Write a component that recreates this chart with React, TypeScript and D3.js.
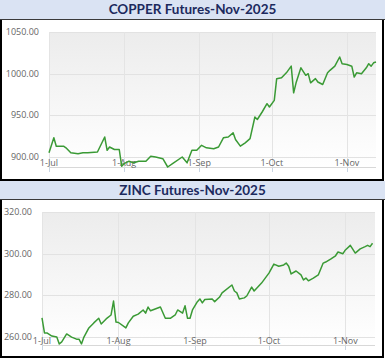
import React from 'react';
import * as d3 from 'd3';

// COPPER Futures-Nov-2025
const copperDates = [
  '2025-07-01', '2025-07-03', '2025-07-04', '2025-07-07', '2025-07-08', '2025-07-10', '2025-07-13',
  '2025-07-15', '2025-07-17', '2025-07-21', '2025-07-22', '2025-07-24', '2025-07-25', '2025-07-26',
  '2025-07-28', '2025-07-30', '2025-07-31', '2025-08-01', '2025-08-03', '2025-08-05', '2025-08-07',
  '2025-08-10', '2025-08-12', '2025-08-14', '2025-08-17', '2025-08-19', '2025-08-21', '2025-08-25',
  '2025-08-27', '2025-08-29', '2025-08-31', '2025-09-02', '2025-09-04', '2025-09-07', '2025-09-09',
  '2025-09-11', '2025-09-13', '2025-09-15', '2025-09-16', '2025-09-18', '2025-09-20', '2025-09-22',
  '2025-09-24', '2025-09-25', '2025-09-27', '2025-09-29', '2025-09-30', '2025-10-02', '2025-10-03',
  '2025-10-05', '2025-10-07', '2025-10-09', '2025-10-10', '2025-10-11', '2025-10-13', '2025-10-15',
  '2025-10-16', '2025-10-17', '2025-10-19', '2025-10-20', '2025-10-22', '2025-10-24', '2025-10-25',
  '2025-10-27', '2025-10-29', '2025-10-30', '2025-11-01', '2025-11-03', '2025-11-04', '2025-11-05',
  '2025-11-07', '2025-11-09', '2025-11-10', '2025-11-11', '2025-11-12', '2025-11-13',
];
const copperValues = [
  905, 923, 913, 913, 911, 905, 904,
  905, 905, 906, 912, 924, 908, 912,
  909, 909, 889, 892, 895, 893, 895,
  895, 901, 900, 898, 888, 892, 900,
  893, 908, 908, 914, 911, 910, 912,
  923, 924, 929, 921, 913, 917, 922,
  948, 945, 954, 964, 960, 968, 994,
  995, 1001, 1009, 977, 989, 1007, 998,
  1000, 989, 994, 990, 987, 1001, 1004,
  1009, 1020, 1012, 1011, 1009, 996, 1001,
  1000, 1007, 1012, 1009, 1013, 1014,
];
const copperTicks = [900, 950, 1000, 1050];

// ZINC Futures-Nov-2025
const zincDates = [
  '2025-07-01', '2025-07-02', '2025-07-03', '2025-07-05', '2025-07-07', '2025-07-08', '2025-07-09',
  '2025-07-11', '2025-07-13', '2025-07-15', '2025-07-16', '2025-07-17', '2025-07-18', '2025-07-20',
  '2025-07-22', '2025-07-24', '2025-07-25', '2025-07-27', '2025-07-29', '2025-07-30', '2025-07-31',
  '2025-08-01', '2025-08-04', '2025-08-05', '2025-08-07', '2025-08-09', '2025-08-11', '2025-08-12',
  '2025-08-13', '2025-08-14', '2025-08-18', '2025-08-20', '2025-08-22', '2025-08-24', '2025-08-25',
  '2025-08-27', '2025-08-28', '2025-08-29', '2025-08-30', '2025-08-31', '2025-09-02', '2025-09-03',
  '2025-09-04', '2025-09-05', '2025-09-08', '2025-09-09', '2025-09-11', '2025-09-12', '2025-09-16',
  '2025-09-17', '2025-09-18', '2025-09-19', '2025-09-21', '2025-09-22', '2025-09-24', '2025-09-25',
  '2025-09-28', '2025-10-01', '2025-10-03', '2025-10-05', '2025-10-07', '2025-10-08', '2025-10-09',
  '2025-10-10', '2025-10-12', '2025-10-14', '2025-10-15', '2025-10-16', '2025-10-17', '2025-10-19',
  '2025-10-21', '2025-10-23', '2025-10-24', '2025-10-26', '2025-10-28', '2025-10-29', '2025-10-31',
  '2025-11-01', '2025-11-03', '2025-11-05', '2025-11-07', '2025-11-09', '2025-11-10', '2025-11-11',
  '2025-11-12',
];
const zincValues = [
  269.2, 262, 262, 260.5, 260, 256.7, 257.7,
  261.5, 260, 259, 259, 256.7, 260, 264.4,
  266.8, 269, 266.3, 268.7, 270.6, 277.3, 267.2,
  267, 264.4, 266.8, 270, 271, 273, 271.5,
  274.4, 272.6, 274.4, 269, 269, 270.6, 273,
  271.5, 275, 269, 269, 273, 277, 278.3,
  276.4, 278, 278.3, 277, 279.2, 281.2, 285,
  282.1, 281.2, 278.3, 278.8, 279.7, 284, 282.1,
  285.9, 290.7, 295, 294, 294.6, 295.5, 294,
  290.3, 291.7, 289.8, 287.4, 288.3, 287, 288.3,
  289.8, 295.5, 296, 297.4, 299, 300.8, 300,
  301.8, 304, 300.3, 302.3, 303.4, 304, 303.4,
  305,
];
const zincTicks = [260, 280, 300, 320];

const monthTicks = ['2025-07-01', '2025-08-01', '2025-09-01', '2025-10-01', '2025-11-01'];
const monthLabels = ['1-Jul', '1-Aug', '1-Sep', '1-Oct', '1-Nov'];

const parse = d3.timeParse('%Y-%m-%d');
const startDate = parse('2025-07-01') as Date;
const endDate = parse('2025-11-13') as Date;

const W = 385;
const lineColor = '#3a9a35';

type PanelProps = {
  id: string;
  title: string;
  dates: string[];
  values: number[];
  ticks: number[];
  yMin: number;
  titleTop: number;
  titleH: number;
  boxBottom: number;
  left: number;
  right: number;
  top: number;
  bottom: number;
};

const Panel = (p: PanelProps) => {
  const x = d3.scaleTime().domain([startDate, endDate]).range([p.left, p.right]);
  const y = d3.scaleLinear().domain([p.yMin, p.ticks[p.ticks.length - 1]]).range([p.bottom, p.top]);
  const pts = p.dates.map((d, i) => ({ date: parse(d) as Date, value: p.values[i] }));
  const line = d3.line<{ date: Date; value: number }>()
    .x(d => x(d.date))
    .y(d => y(d.value));
  const boxTop = p.titleTop + p.titleH;

  return (
    <g>
      <defs>
        <linearGradient id={p.id + '-bg'} x1="0" y1="0" x2="0" y2="1">
          <stop offset="0%" stopColor="#ececec" />
          <stop offset="100%" stopColor="#ffffff" />
        </linearGradient>
      </defs>
      {/* title bar */}
      <rect x={0} y={p.titleTop} width={W} height={p.titleH} fill="#dae3f3" />
      <line x1={0} x2={W} y1={boxTop + 0.5} y2={boxTop + 0.5} stroke="#3a3a3a" strokeWidth={1} />
      <text
        x={W / 2}
        y={p.titleTop + p.titleH / 2 + 4.5}
        textAnchor="middle"
        fontFamily="Lato, 'Open Sans', sans-serif"
        fontWeight="bold"
        fontSize={13.5}
        fill="#1c2a5e"
      >
        {p.title}
      </text>
      {/* chart box */}
      <rect x={0} y={boxTop + 1} width={W} height={p.boxBottom - boxTop - 1} fill="#ffffff" />
      <line x1={1} x2={1} y1={boxTop + 1} y2={p.boxBottom} stroke="#000" strokeWidth={2} />
      <line x1={383} x2={383} y1={boxTop + 1} y2={p.boxBottom} stroke="#000" strokeWidth={2} />
      <line x1={0} x2={W - 1} y1={p.boxBottom} y2={p.boxBottom} stroke="#000" strokeWidth={2} />

      {/* plot area */}
      <rect x={p.left} y={p.top} width={p.right - p.left} height={p.bottom - p.top} fill={`url(#${p.id}-bg)`} />
      {p.ticks.map(t => (
        <line key={'h' + t} x1={p.left} x2={p.right} y1={Math.round(y(t)) + 0.5} y2={Math.round(y(t)) + 0.5}
          stroke="#e2e2e2" strokeWidth={1} />
      ))}
      {monthTicks.map(m => {
        const xx = Math.round(x(parse(m) as Date)) + 0.5;
        return (
          <g key={'v' + m}>
            <line x1={xx} x2={xx} y1={p.top} y2={p.bottom} stroke="#e4e4e4" strokeWidth={1} />
            <line x1={xx} x2={xx} y1={p.bottom} y2={p.bottom + 5} stroke="#c8d4e2" strokeWidth={1} />
          </g>
        );
      })}
      <line x1={p.left} x2={p.right} y1={p.bottom + 0.5} y2={p.bottom + 0.5} stroke="#d8d8d8" strokeWidth={1} />

      {/* y labels */}
      {p.ticks.map(t => (
        <text key={'yl' + t} x={p.left - 10} y={y(t) + 3} textAnchor="end"
          fontFamily="'Open Sans', sans-serif" fontSize={9} fill="#666">
          {d3.format('.2f')(t)}
        </text>
      ))}
      {/* x labels */}
      {monthTicks.map((m, i) => (
        <text key={'xl' + m} x={x(parse(m) as Date)} y={p.bottom - 1} textAnchor="middle"
          fontFamily="'Open Sans', sans-serif" fontSize={9} fill="#666">
          {monthLabels[i]}
        </text>
      ))}

      <path d={line(pts) || ''} fill="none" stroke={lineColor} strokeWidth={1.5} strokeLinejoin="round" />
    </g>
  );
};

export default function App() {
  return (
    <svg width={W} height={362} style={{ display: 'block', position: 'absolute', left: 0, top: 0 }}>
      <rect x={0} y={0} width={W} height={362} fill="#ffffff" />
      <Panel
        id="copper"
        title="COPPER Futures-Nov-2025"
        dates={copperDates}
        values={copperValues}
        ticks={copperTicks}
        yMin={888}
        titleTop={0}
        titleH={19}
        boxBottom={180}
        left={49}
        right={376}
        top={32}
        bottom={167}
      />
      <Panel
        id="zinc"
        title="ZINC Futures-Nov-2025"
        dates={zincDates}
        values={zincValues}
        ticks={zincTicks}
        yMin={256.2}
        titleTop={181}
        titleH={18}
        boxBottom={357}
        left={42}
        right={375}
        top={212}
        bottom={345}
      />
    </svg>
  );
}
